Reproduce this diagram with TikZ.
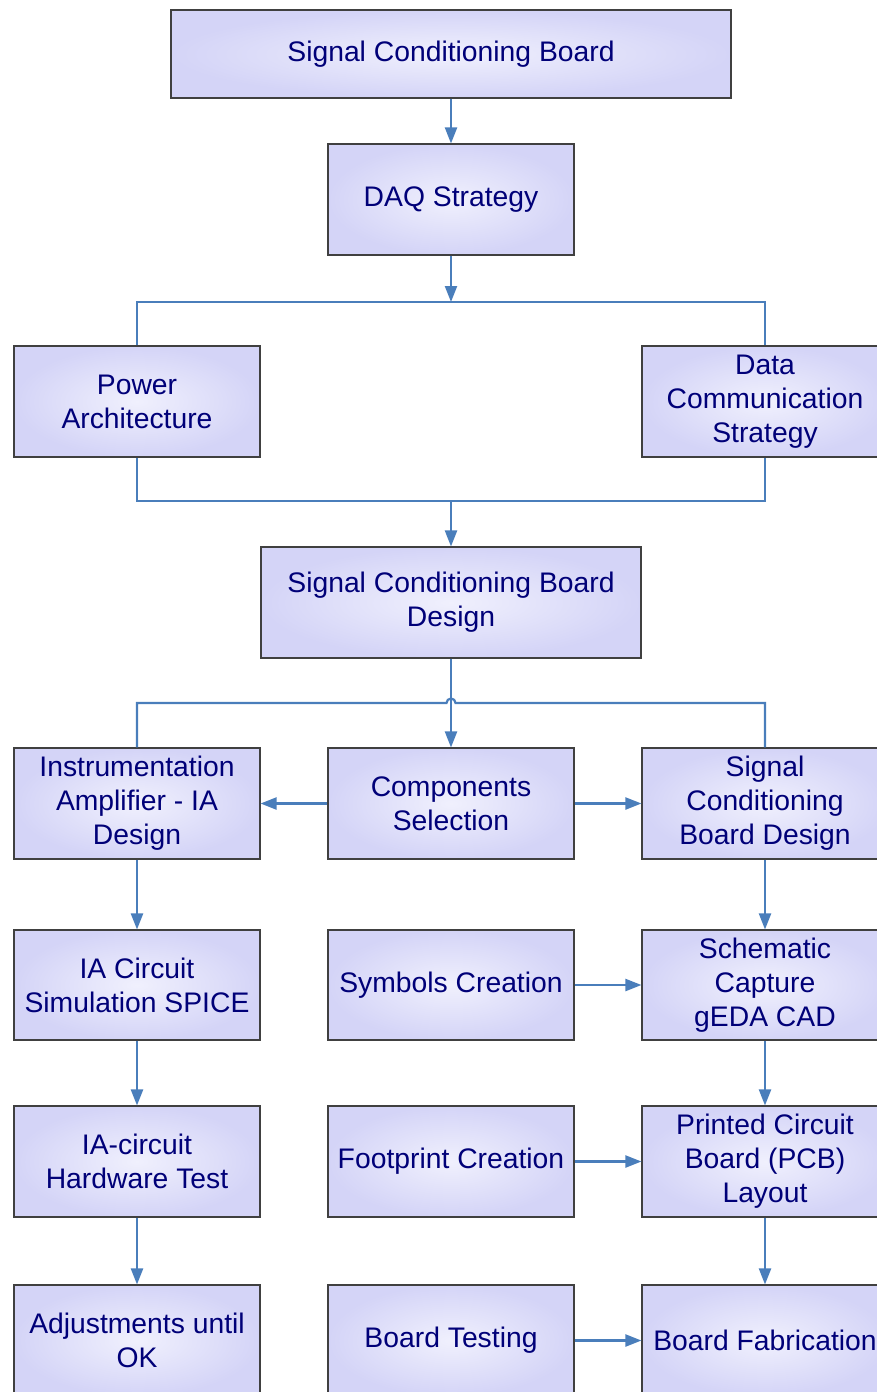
\documentclass[tikz,border=0pt]{standalone}
\usepackage{fontspec}
\setmainfont{Liberation Sans}
\usetikzlibrary{arrows.meta,calc}
\definecolor{boxin}{RGB}{240,240,253}
\definecolor{boxout}{RGB}{212,212,247}
\definecolor{txt}{RGB}{0,0,120}
\definecolor{wire}{RGB}{74,126,187}
\definecolor{edge}{RGB}{64,64,64}
\tikzset{
  stepbox/.style={draw=edge, line width=1.1pt, inner color=boxin, outer color=boxout,
    minimum width=246pt, minimum height=111pt, align=center, text=txt,
    font=\fontsize{28.3}{34}\selectfont, inner sep=0pt},
  conn/.style={draw=wire, line width=2.2pt},
  arr/.style={conn, -{Triangle[length=16pt, width=12pt]}}
}
\begin{document}
\begin{tikzpicture}[x=1pt,y=1pt]
\useasboundingbox (0,0) rectangle (877,-1392);
% nodes
\node[stepbox, minimum width=560pt, minimum height=88pt] (top) at (451,-54) {Signal Conditioning Board};
\node[stepbox] (daq) at (451,-199.5) {DAQ Strategy};
\node[stepbox] (pow) at (137,-401.5) {Power\\Architecture};
\node[stepbox] (dcs) at (765,-401.5) {Data\\Communication\\Strategy};
\node[stepbox, minimum width=380pt] (scbd) at (451,-602.5) {Signal Conditioning Board\\Design};
\node[stepbox] (ia) at (137,-803.5) {Instrumentation\\Amplifier - IA\\Design};
\node[stepbox] (comp) at (451,-803.5) {Components\\Selection};
\node[stepbox] (scb) at (765,-803.5) {Signal\\Conditioning\\Board Design};
\node[stepbox, minimum height=110pt] (iasim) at (137,-985) {IA Circuit\\Simulation SPICE};
\node[stepbox, minimum height=110pt] (sym) at (451,-985) {Symbols Creation};
\node[stepbox, minimum height=110pt] (sch) at (765,-985) {Schematic\\Capture\\gEDA CAD};
\node[stepbox] (iahw) at (137,-1161.5) {IA-circuit\\Hardware Test};
\node[stepbox] (fp) at (451,-1161.5) {Footprint Creation};
\node[stepbox] (pcb) at (765,-1161.5) {Printed Circuit\\Board (PCB)\\Layout};
\node[stepbox] (adj) at (137,-1340.5) {Adjustments until\\OK};
\node[stepbox] (bt) at (451,-1340.5) {Board Testing};
\node[stepbox] (bf) at (765,-1340.5) {Board Fabrication};
% helper coordinates
\coordinate (split1) at (451,-302);
\coordinate (join1) at (451,-501);
\coordinate (hopL) at (446.5,-703);
\coordinate (hopR) at (455.5,-703);
% connectors
\draw[arr] (top) -- (daq);
\draw[arr] (daq) -- (split1);
\draw[conn] (pow.north) |- (split1) -| (dcs.north);
\draw[conn] (pow.south) |- (join1) -| (dcs.south);
\draw[arr] (join1) -- (scbd);
\draw[arr] (scbd) -- (comp);
\draw[conn] (ia.north) |- (hopL) arc[start angle=180, end angle=0, radius=4.5pt] -- (hopR) -| (scb.north);
\draw[arr] (comp) -- (ia);
\draw[arr] (comp) -- (scb);
\draw[arr] (ia) -- (iasim);
\draw[arr] (scb) -- (sch);
\draw[arr] (sym) -- (sch);
\draw[arr] (iasim) -- (iahw);
\draw[arr] (sch) -- (pcb);
\draw[arr] (fp) -- (pcb);
\draw[arr] (iahw) -- (adj);
\draw[arr] (pcb) -- (bf);
\draw[arr] (bt) -- (bf);
\end{tikzpicture}
\end{document}
